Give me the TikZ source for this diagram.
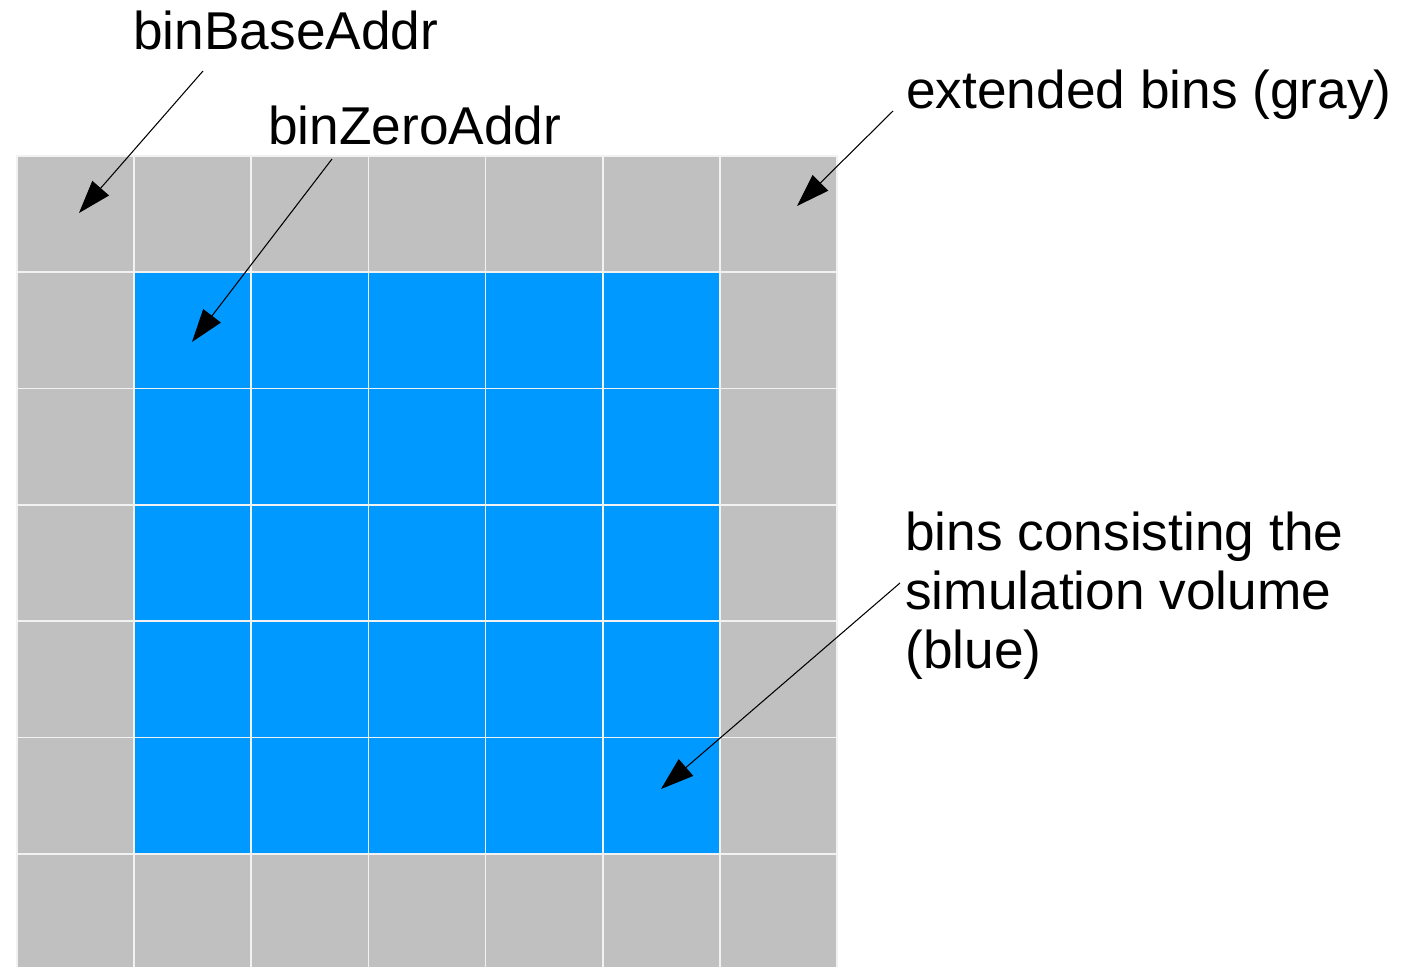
\documentclass[tikz,border=0pt]{standalone}
\usepackage{fontspec}
\setmainfont{Liberation Sans}
\usetikzlibrary{arrows.meta,positioning,calc}
\definecolor{binGray}{HTML}{C0C0C0}
\definecolor{binBlue}{HTML}{0099FF}
\definecolor{gridLine}{HTML}{F2F2F2}

\begin{document}
\begin{tikzpicture}[x=0.02cm,y=-0.02cm,
    every node/.style={font=\fontsize{30.3}{33.5}\selectfont,inner sep=0pt,align=left},
    extbin/.style={fill=binGray,draw=gridLine,line width=1pt},
    simbin/.style={fill=binBlue,draw=gridLine,line width=1pt},
    pointer/.style={-{Triangle[length=0.66cm,width=0.44cm]},line width=0.6pt}]
      \useasboundingbox (0,0) rectangle (1411,967);
      % 7x7 bins, the inner 5x5 are the simulation volume
      \foreach \i in {0,...,6}
        \foreach \j in {0,...,6}
          \draw[extbin] (17+117.14*\i,156+116.3*\j) rectangle ++(117.14,116.3);
      \foreach \i in {1,...,5}
        \foreach \j in {1,...,5}
          \draw[simbin] (17+117.14*\i,156+116.3*\j) rectangle ++(117.14,116.3);
      \node[anchor=base west] (base) at (133,49) {binBaseAddr};
      \node[anchor=base west] (zero) at (268,144) {binZeroAddr};
      \node[anchor=base west] (ext) at (906,108) {extended bins (gray)};
      \node[anchor=base west] (sim) at (905,668) {bins consisting the\\simulation volume\\(blue)};
      \coordinate (baseFrom) at (203,71);
      \coordinate (baseTip) at (79,213);
      \coordinate (zeroFrom) at (332,159);
      \coordinate (zeroTip) at (192,342);
      \coordinate (extFrom) at (893,111);
      \coordinate (extTip) at (797,206);
      \coordinate (simFrom) at (900,583);
      \coordinate (simTip) at (661,789);
      \draw[pointer] (baseFrom)--(baseTip);
      \draw[pointer] (zeroFrom)--(zeroTip);
      \draw[pointer] (extFrom)--(extTip);
      \draw[pointer] (simFrom)--(simTip);
    \end{tikzpicture}
\end{document}
